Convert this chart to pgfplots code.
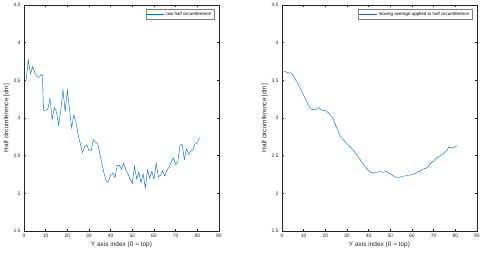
\documentclass[border=0pt]{standalone}
\usepackage{pgfplots}
\pgfplotsset{compat=1.18}
\usepackage{fontspec}
\setmainfont{Liberation Sans}
\definecolor{mblue}{rgb}{0,0.447,0.741}
\definecolor{axgray}{rgb}{0.15,0.15,0.15}
\pgfplotsset{
  mstyle/.style={
    scale only axis, width=195bp, height=226bp,
    xmin=0, xmax=90, ymin=1.5, ymax=4.5,
    xtick={0,10,...,90}, ytick={1.5,2,...,4.5},
    tick align=inside, major tick length=2bp,
    axis line style={axgray, line width=0.4pt},
    every tick/.style={axgray, line width=0.4pt},
    tick label style={font=\fontsize{5}{6}\selectfont, text=axgray},
    label style={font=\fontsize{6.5}{7.5}\selectfont, text=axgray},
    /pgf/number format/assume math mode=true,
    yticklabel style={/pgf/number format/fixed},
    xlabel={Y axis index (0 = top)},
    ylabel={Half circumference [dm]},
    xlabel style={yshift=3bp},
    ylabel style={yshift=-3bp},
    legend style={at={(rel axis cs:0.975,0.982)}, anchor=north east,
      draw=axgray!60, line width=0.3pt, font=\fontsize{4.5}{5}\selectfont,
      inner sep=0.8pt, row sep=-1pt},
    legend cell align=left,
  }
}
\begin{document}
\begin{tikzpicture}
\useasboundingbox (-24bp,-23bp) rectangle (462bp,231bp);
\begin{axis}[mstyle, at={(0,0)}, anchor=south west]
\addplot[mblue, line width=0.45pt] coordinates {
(1,3.51)(2,3.77)(3,3.59)(4,3.68)(5,3.60)(6,3.55)(7,3.54)(8,3.58)(8.5,3.57)(9,3.10)(10,3.10)(11,3.12)(12,3.26)(13,2.98)(14,3.14)(15,3.08)(16,2.90)(17,3.12)(18,3.37)(19,3.08)(20,3.37)(21,3.12)(22,2.87)(23,3.04)(24,2.95)(25,2.77)(26,2.66)(27,2.54)(28,2.62)(29,2.64)(30,2.57)(31,2.57)(32,2.71)(33,2.68)(34,2.66)(35,2.53)(36,2.39)(37,2.26)(38,2.16)(39,2.16)(40,2.24)(41,2.27)(42,2.21)(43,2.37)(44,2.37)(45,2.32)(46,2.40)(47,2.31)(48,2.26)(49,2.18)(50,2.13)(51,2.36)(52,2.19)(53,2.28)(54,2.14)(55,2.26)(56,2.07)(57,2.31)(58,2.20)(59,2.29)(60,2.19)(61,2.40)(62,2.22)(63,2.24)(64,2.30)(65,2.23)(66,2.31)(67,2.35)(68,2.42)(69,2.47)(70,2.38)(71,2.42)(72,2.64)(73,2.65)(74,2.45)(75,2.59)(76,2.52)(77,2.56)(78,2.58)(79,2.66)(80,2.67)(81,2.74)
};
\addlegendentry{raw half circumference}
\end{axis}
\begin{axis}[mstyle, at={(258bp,0)}, anchor=south west]
\addplot[mblue, line width=0.45pt] coordinates {
(1,3.62)(2,3.61)(3,3.60)(4,3.60)(5,3.57)(6,3.52)(7,3.47)(8,3.42)(9,3.36)(10,3.30)(11,3.24)(12,3.18)(13,3.13)(14,3.11)(15,3.11)(16,3.12)(17,3.14)(18,3.11)(19,3.10)(20,3.10)(21,3.08)(22,3.05)(23,3.02)(24,2.96)(25,2.89)(26,2.82)(27,2.75)(28,2.72)(29,2.69)(30,2.66)(31,2.63)(32,2.60)(33,2.57)(34,2.53)(35,2.49)(36,2.45)(37,2.41)(38,2.37)(39,2.33)(40,2.30)(41,2.28)(42,2.27)(43,2.28)(44,2.28)(45,2.29)(46,2.28)(47,2.28)(48,2.29)(49,2.27)(50,2.26)(51,2.24)(52,2.22)(53,2.21)(54,2.21)(55,2.22)(56,2.23)(57,2.23)(58,2.24)(59,2.24)(60,2.25)(61,2.26)(62,2.27)(63,2.29)(64,2.30)(65,2.32)(66,2.33)(67,2.34)(68,2.38)(69,2.41)(70,2.43)(71,2.46)(72,2.48)(73,2.50)(74,2.52)(75,2.54)(76,2.57)(77,2.61)(78,2.61)(79,2.60)(80,2.62)(81,2.63)
};
\addlegendentry{moving average applied to half circumference}
\end{axis}
\end{tikzpicture}
\end{document}
